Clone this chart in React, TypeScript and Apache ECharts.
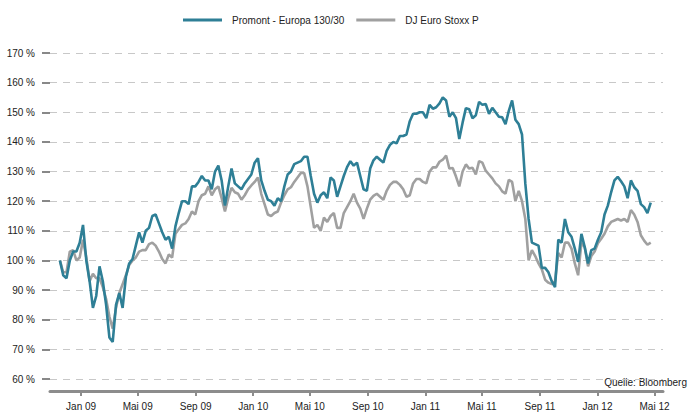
import React, { useEffect, useRef } from "react";
import * as echarts from "echarts";

// Weekly observations starting 17 Nov 2008 (index 100 = start)
const START = Date.UTC(2008, 10, 17);
const WEEK = 7 * 86400000;

const promont = [
  100, 95, 94, 100, 103, 103, 106, 112, 100, 93,
  84, 88, 98, 93, 85, 74, 72.5, 85, 89, 84,
  94.5, 99, 100.5, 105, 109.5, 106, 110, 111, 115, 115.5,
  112.5, 109.5, 107, 108, 104, 111.5, 116, 120, 120, 119,
  125, 125, 126.5, 128.5, 127, 127, 124, 130, 132, 127,
  118.5, 125, 131, 126, 125, 124, 126, 127.5, 129, 133,
  134.5, 127, 123.5, 120.5, 120, 118.5, 121, 120, 125, 129,
  130, 132.5, 133, 133.5, 135, 135, 128.5, 122.5, 119.5, 122,
  123, 121, 128, 127, 121.5, 125, 128.5, 131.5, 133.5, 132,
  133, 128.5, 124, 123.5, 131, 133.8, 135, 134, 133, 137,
  139, 140, 139.5, 142, 142, 142.5, 147, 149.5, 149.5, 150,
  150, 148, 152.5, 151.2, 151.7, 153, 155, 154, 148.5, 150,
  148, 141, 146.5, 151.4, 151, 148, 149, 153.5, 152.5, 152.8,
  149.5, 151.5, 150, 148.5, 148.3, 146, 150.5, 154, 147.5, 146,
  142.5, 126, 114, 106, 105.5, 105, 97.5, 97.5, 96, 93,
  91, 107, 106, 114, 109.5, 108, 104, 99.5, 109, 104.5,
  99, 103.5, 104, 107, 109.5, 115.5, 118.5, 123, 127, 128.2,
  126.7, 125, 121, 127, 124.7, 123.5, 119, 118, 116, 119.5,
];

const stoxx = [
  100, 96, 96, 103, 103.5, 100, 101, 107, 101, 93,
  95.5, 94, 94, 91, 87, 81, 77, 84, 89, 92,
  95, 98.5, 100, 101, 103, 103.5, 103.5, 105.5, 106, 105,
  103, 100.5, 99, 102, 101, 109, 110.5, 112, 112.5, 114,
  116.5, 115.5, 120, 122, 122.5, 125, 122, 124, 125, 121,
  116.5, 121, 124.5, 123, 122.5, 120.5, 122, 124, 125.3, 126.5,
  128, 122.5, 119, 115.5, 115, 116, 116.5, 119.5, 122, 124,
  124.7, 126.5, 128, 129.5, 129.5, 125, 118, 111, 112, 110,
  114.5, 113, 115, 116, 111, 111, 116, 118, 120, 122.5,
  119.5, 117.5, 114, 117.5, 120.5, 121.8, 122.5, 121.5, 120.5, 123.5,
  125.5, 126.5, 126.5, 125.5, 124, 121.5, 122, 126, 127.5, 127.5,
  126.5, 126, 130, 131.4, 131.4, 133.3, 134, 135.4, 131, 131.2,
  128.3, 125, 130, 132.4, 131, 131.3, 129, 133.5, 133, 130.3,
  129, 127.7, 126, 125, 123.3, 122.5, 127.2, 126.5, 120, 123.5,
  120, 114, 100, 103.5, 101.5, 99, 97, 93.5, 92.5, 92,
  93, 102.5, 101, 106, 106, 104, 99, 95, 106, 104.5,
  98, 101.5, 103, 105.8, 107.3, 109, 111.5, 113, 113.5, 114,
  113.5, 114, 113, 117, 115.5, 113, 108.5, 106.7, 105.3, 106,
];

const dates = promont.map((_, i) => START + i * WEEK);

const tickDates = [
  Date.UTC(2009, 0, 1), Date.UTC(2009, 4, 1), Date.UTC(2009, 8, 1),
  Date.UTC(2010, 0, 1), Date.UTC(2010, 4, 1), Date.UTC(2010, 8, 1),
  Date.UTC(2011, 0, 1), Date.UTC(2011, 4, 1), Date.UTC(2011, 8, 1),
  Date.UTC(2012, 0, 1), Date.UTC(2012, 4, 1),
];
const monthNames = ["Jan", "Feb", "Mär", "Apr", "Mai", "Jun", "Jul", "Aug", "Sep", "Okt", "Nov", "Dez"];

const SERIES_NAMES = ["Promont - Europa 130/30", "DJ Euro Stoxx P"];
const FONT = "'Liberation Sans Narrow', 'Arial Narrow', 'Liberation Sans', Arial, sans-serif";

export default function App() {
  const ref = useRef<HTMLDivElement>(null);
  useEffect(() => {
    document.body.style.margin = "0";
    if (!ref.current) return;
    const chart = echarts.init(ref.current, undefined, { renderer: "svg" });
    chart.setOption({
      animation: false,
      textStyle: { fontFamily: FONT },
      legend: {
        top: 10,
        left: 178,
        icon: "rect",
        itemWidth: 39,
        itemHeight: 3,
        itemGap: 12,
        data: SERIES_NAMES,
        textStyle: { fontSize: 10, color: "#222", fontFamily: FONT, padding: [0, 0, 0, 5] },
      },
      grid: { left: 50, right: 25, top: 53, bottom: 35 },
      xAxis: {
        type: "value",
        min: Date.UTC(2008, 9, 27),
        max: Date.UTC(2012, 4, 19),
        offset: 12,
        splitLine: { show: false },
        axisLine: { show: true, lineStyle: { color: "#8c8c8c", width: 3 } },
        axisTick: { show: true, customValues: tickDates, length: 5, lineStyle: { color: "#8c8c8c", width: 2 } },
        axisLabel: {
          customValues: tickDates,
          margin: 10,
          fontSize: 10,
          color: "#222",
          fontFamily: FONT,
          formatter: (v: number) => {
            const d = new Date(v);
            return `${monthNames[d.getUTCMonth()]} ${String(d.getUTCFullYear()).slice(2)}`;
          },
        },
      },
      yAxis: {
        type: "value",
        min: 60,
        max: 170,
        interval: 10,
        axisLine: { show: false },
        axisTick: { show: true, length: 8, lineStyle: { color: "#888", width: 2 } },
        axisLabel: { formatter: (v: number) => `${v} %`, margin: 15, fontSize: 10, color: "#222", fontFamily: FONT },
        splitLine: { show: true, lineStyle: { type: [7, 6], color: "#c8c8c8", width: 1 } },
      },
      series: [
        {
          name: SERIES_NAMES[0],
          type: "line",
          symbol: "none",
          z: 3,
          data: dates.map((d, i) => [d, promont[i]]),
          lineStyle: { color: "#2e7f96", width: 2.6 },
          itemStyle: { color: "#2e7f96" },
        },
        {
          name: SERIES_NAMES[1],
          type: "line",
          symbol: "none",
          z: 2,
          data: dates.map((d, i) => [d, stoxx[i]]),
          lineStyle: { color: "#a0a0a0", width: 2.6 },
          itemStyle: { color: "#a0a0a0" },
        },
      ],
      graphic: [
        {
          type: "text",
          right: 1,
          top: 377,
          style: { text: "Quelle: Bloomberg", fontSize: 10, fill: "#222", fontFamily: FONT },
        },
      ],
    });
    return () => chart.dispose();
  }, []);
  return <div ref={ref} style={{ width: 688, height: 414 }} />;
}
